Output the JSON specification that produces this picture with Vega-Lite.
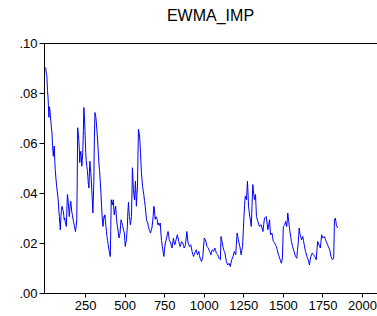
{
  "$schema": "https://vega.github.io/schema/vega-lite/v6.json",
  "width": 333,
  "height": 250,
  "autosize": {"type": "none"},
  "padding": {"left": 44, "top": 43, "right": 0, "bottom": 23},
  "background": "white",
  "config": {
    "view": {"stroke": null},
    "font": "Liberation Sans",
    "axis": {"grid": false, "domainColor": "black", "tickColor": "black", "labelColor": "black", "labelFont": "Liberation Sans", "labelFontSize": 13, "title": null, "domainWidth": 1, "tickWidth": 1}
  },
  "title": {"text": "EWMA_IMP", "fontSize": 16, "font": "Liberation Sans", "fontWeight": "normal", "color": "black", "anchor": "middle", "frame": "group", "offset": 13},
  "data": {"values": [
    {"t":1,"v":0.0902},{"t":4,"v":0.088},{"t":8,"v":0.0869},{"t":12,"v":0.081},{"t":15,"v":0.0788},{"t":18,"v":0.075},{"t":21,"v":0.0703},{"t":24,"v":0.0745},{"t":27,"v":0.0735},{"t":31,"v":0.07},{"t":34,"v":0.0683},{"t":37,"v":0.066},{"t":40,"v":0.0643},{"t":44,"v":0.059},{"t":49,"v":0.0547},{"t":52,"v":0.0575},{"t":55,"v":0.0588},{"t":58,"v":0.053},{"t":61,"v":0.0494},{"t":66,"v":0.0455},{"t":70,"v":0.0427},{"t":75,"v":0.04},{"t":80,"v":0.0373},{"t":84,"v":0.033},{"t":87,"v":0.0306},{"t":90,"v":0.028},{"t":93,"v":0.0253},{"t":97,"v":0.0306},{"t":100,"v":0.033},{"t":104,"v":0.0347},{"t":108,"v":0.0335},{"t":112,"v":0.0327},{"t":115,"v":0.031},{"t":118,"v":0.0293},{"t":121,"v":0.03},{"t":125,"v":0.0281},{"t":128,"v":0.0275},{"t":131,"v":0.0266},{"t":134,"v":0.032},{"t":138,"v":0.0394},{"t":141,"v":0.038},{"t":144,"v":0.0361},{"t":147,"v":0.033},{"t":150,"v":0.0306},{"t":154,"v":0.034},{"t":159,"v":0.0367},{"t":162,"v":0.035},{"t":165,"v":0.0327},{"t":170,"v":0.031},{"t":176,"v":0.0286},{"t":182,"v":0.027},{"t":186,"v":0.0255},{"t":189,"v":0.0246},{"t":193,"v":0.0265},{"t":197,"v":0.0293},{"t":200,"v":0.045},{"t":203,"v":0.0661},{"t":206,"v":0.064},{"t":210,"v":0.0614},{"t":213,"v":0.058},{"t":216,"v":0.0522},{"t":219,"v":0.055},{"t":223,"v":0.0567},{"t":226,"v":0.054},{"t":229,"v":0.0507},{"t":232,"v":0.053},{"t":235,"v":0.0561},{"t":239,"v":0.065},{"t":242,"v":0.0742},{"t":245,"v":0.071},{"t":248,"v":0.0668},{"t":251,"v":0.061},{"t":254,"v":0.0561},{"t":257,"v":0.053},{"t":261,"v":0.0507},{"t":264,"v":0.049},{"t":267,"v":0.0467},{"t":270,"v":0.044},{"t":274,"v":0.042},{"t":277,"v":0.048},{"t":280,"v":0.0527},{"t":283,"v":0.05},{"t":286,"v":0.0481},{"t":290,"v":0.044},{"t":293,"v":0.04},{"t":296,"v":0.036},{"t":299,"v":0.032},{"t":302,"v":0.038},{"t":305,"v":0.0447},{"t":308,"v":0.06},{"t":312,"v":0.0722},{"t":315,"v":0.0715},{"t":318,"v":0.0702},{"t":321,"v":0.068},{"t":324,"v":0.0655},{"t":328,"v":0.062},{"t":331,"v":0.0588},{"t":334,"v":0.0555},{"t":337,"v":0.0521},{"t":341,"v":0.049},{"t":345,"v":0.0454},{"t":350,"v":0.04},{"t":354,"v":0.0347},{"t":358,"v":0.03},{"t":363,"v":0.0266},{"t":366,"v":0.0285},{"t":369,"v":0.0306},{"t":372,"v":0.03},{"t":375,"v":0.0313},{"t":378,"v":0.029},{"t":382,"v":0.0266},{"t":385,"v":0.0245},{"t":388,"v":0.0226},{"t":392,"v":0.021},{"t":396,"v":0.0193},{"t":399,"v":0.018},{"t":403,"v":0.0166},{"t":406,"v":0.0155},{"t":409,"v":0.0146},{"t":412,"v":0.025},{"t":415,"v":0.0373},{"t":418,"v":0.036},{"t":422,"v":0.0353},{"t":425,"v":0.0365},{"t":428,"v":0.0373},{"t":431,"v":0.034},{"t":434,"v":0.0313},{"t":438,"v":0.033},{"t":443,"v":0.0347},{"t":446,"v":0.032},{"t":449,"v":0.0293},{"t":452,"v":0.0275},{"t":456,"v":0.026},{"t":460,"v":0.024},{"t":464,"v":0.022},{"t":467,"v":0.023},{"t":471,"v":0.024},{"t":474,"v":0.027},{"t":477,"v":0.0293},{"t":480,"v":0.0286},{"t":483,"v":0.028},{"t":486,"v":0.027},{"t":490,"v":0.026},{"t":494,"v":0.025},{"t":498,"v":0.024},{"t":501,"v":0.021},{"t":504,"v":0.0186},{"t":507,"v":0.02},{"t":511,"v":0.0213},{"t":514,"v":0.024},{"t":517,"v":0.0266},{"t":520,"v":0.032},{"t":524,"v":0.0363},{"t":527,"v":0.033},{"t":530,"v":0.0306},{"t":533,"v":0.029},{"t":536,"v":0.0273},{"t":540,"v":0.029},{"t":543,"v":0.0306},{"t":546,"v":0.04},{"t":549,"v":0.0501},{"t":552,"v":0.046},{"t":555,"v":0.0414},{"t":558,"v":0.0395},{"t":562,"v":0.0373},{"t":565,"v":0.041},{"t":568,"v":0.0447},{"t":571,"v":0.04},{"t":574,"v":0.0347},{"t":577,"v":0.039},{"t":581,"v":0.0427},{"t":584,"v":0.055},{"t":587,"v":0.0655},{"t":590,"v":0.0645},{"t":594,"v":0.0628},{"t":597,"v":0.06},{"t":600,"v":0.0561},{"t":603,"v":0.052},{"t":606,"v":0.0481},{"t":610,"v":0.045},{"t":613,"v":0.0427},{"t":617,"v":0.041},{"t":621,"v":0.0394},{"t":625,"v":0.037},{"t":630,"v":0.0347},{"t":634,"v":0.032},{"t":638,"v":0.0293},{"t":642,"v":0.0285},{"t":646,"v":0.028},{"t":650,"v":0.0265},{"t":655,"v":0.0253},{"t":659,"v":0.0248},{"t":663,"v":0.024},{"t":668,"v":0.025},{"t":672,"v":0.026},{"t":676,"v":0.028},{"t":680,"v":0.0306},{"t":684,"v":0.0347},{"t":687,"v":0.034},{"t":690,"v":0.0315},{"t":693,"v":0.0295},{"t":697,"v":0.0305},{"t":702,"v":0.0303},{"t":706,"v":0.029},{"t":710,"v":0.0273},{"t":714,"v":0.028},{"t":719,"v":0.027},{"t":722,"v":0.0275},{"t":725,"v":0.028},{"t":729,"v":0.024},{"t":733,"v":0.021},{"t":738,"v":0.0186},{"t":743,"v":0.0165},{"t":748,"v":0.0146},{"t":752,"v":0.0175},{"t":757,"v":0.02},{"t":761,"v":0.021},{"t":765,"v":0.022},{"t":770,"v":0.0235},{"t":774,"v":0.0246},{"t":778,"v":0.023},{"t":782,"v":0.0213},{"t":787,"v":0.0205},{"t":791,"v":0.02},{"t":795,"v":0.019},{"t":799,"v":0.018},{"t":804,"v":0.02},{"t":808,"v":0.022},{"t":812,"v":0.0205},{"t":816,"v":0.0193},{"t":820,"v":0.02},{"t":825,"v":0.0213},{"t":829,"v":0.0225},{"t":833,"v":0.0233},{"t":838,"v":0.022},{"t":842,"v":0.0206},{"t":846,"v":0.0195},{"t":850,"v":0.0186},{"t":855,"v":0.0195},{"t":859,"v":0.0206},{"t":863,"v":0.0203},{"t":867,"v":0.02},{"t":872,"v":0.019},{"t":876,"v":0.018},{"t":880,"v":0.0186},{"t":884,"v":0.0193},{"t":888,"v":0.0215},{"t":893,"v":0.0246},{"t":897,"v":0.022},{"t":901,"v":0.02},{"t":905,"v":0.0193},{"t":910,"v":0.0186},{"t":914,"v":0.019},{"t":918,"v":0.0193},{"t":922,"v":0.018},{"t":926,"v":0.0166},{"t":931,"v":0.0155},{"t":935,"v":0.0146},{"t":939,"v":0.0153},{"t":943,"v":0.016},{"t":948,"v":0.0166},{"t":952,"v":0.0173},{"t":956,"v":0.0163},{"t":960,"v":0.0153},{"t":965,"v":0.016},{"t":969,"v":0.0166},{"t":973,"v":0.015},{"t":977,"v":0.0139},{"t":982,"v":0.0132},{"t":986,"v":0.0126},{"t":990,"v":0.0135},{"t":994,"v":0.0146},{"t":998,"v":0.018},{"t":1003,"v":0.022},{"t":1007,"v":0.0215},{"t":1011,"v":0.0213},{"t":1015,"v":0.02},{"t":1020,"v":0.0186},{"t":1024,"v":0.0183},{"t":1028,"v":0.018},{"t":1032,"v":0.0173},{"t":1037,"v":0.0166},{"t":1041,"v":0.016},{"t":1045,"v":0.0153},{"t":1049,"v":0.0163},{"t":1053,"v":0.0173},{"t":1058,"v":0.017},{"t":1062,"v":0.0166},{"t":1066,"v":0.0173},{"t":1070,"v":0.018},{"t":1075,"v":0.017},{"t":1079,"v":0.016},{"t":1084,"v":0.0157},{"t":1088,"v":0.0153},{"t":1092,"v":0.0146},{"t":1096,"v":0.0139},{"t":1100,"v":0.0136},{"t":1105,"v":0.0133},{"t":1107,"v":0.018},{"t":1109,"v":0.0226},{"t":1113,"v":0.0213},{"t":1117,"v":0.02},{"t":1121,"v":0.0186},{"t":1126,"v":0.0173},{"t":1130,"v":0.0166},{"t":1134,"v":0.016},{"t":1138,"v":0.0143},{"t":1143,"v":0.0126},{"t":1147,"v":0.0119},{"t":1151,"v":0.0112},{"t":1155,"v":0.0116},{"t":1160,"v":0.0119},{"t":1164,"v":0.0112},{"t":1168,"v":0.0106},{"t":1172,"v":0.012},{"t":1177,"v":0.0133},{"t":1181,"v":0.014},{"t":1185,"v":0.0146},{"t":1189,"v":0.0156},{"t":1193,"v":0.0166},{"t":1198,"v":0.016},{"t":1202,"v":0.0153},{"t":1206,"v":0.0195},{"t":1211,"v":0.024},{"t":1215,"v":0.0226},{"t":1219,"v":0.0213},{"t":1223,"v":0.02},{"t":1228,"v":0.0186},{"t":1232,"v":0.017},{"t":1236,"v":0.0153},{"t":1240,"v":0.017},{"t":1245,"v":0.0186},{"t":1250,"v":0.025},{"t":1254,"v":0.0306},{"t":1258,"v":0.035},{"t":1262,"v":0.0387},{"t":1266,"v":0.038},{"t":1270,"v":0.0373},{"t":1273,"v":0.041},{"t":1276,"v":0.0447},{"t":1280,"v":0.0395},{"t":1283,"v":0.0347},{"t":1287,"v":0.0325},{"t":1291,"v":0.0306},{"t":1296,"v":0.0285},{"t":1300,"v":0.0266},{"t":1305,"v":0.035},{"t":1310,"v":0.0434},{"t":1315,"v":0.04},{"t":1321,"v":0.0373},{"t":1324,"v":0.0385},{"t":1327,"v":0.0394},{"t":1330,"v":0.035},{"t":1333,"v":0.0306},{"t":1337,"v":0.0296},{"t":1342,"v":0.0286},{"t":1347,"v":0.0276},{"t":1352,"v":0.0266},{"t":1357,"v":0.027},{"t":1363,"v":0.0273},{"t":1368,"v":0.026},{"t":1374,"v":0.0246},{"t":1379,"v":0.0275},{"t":1384,"v":0.03},{"t":1390,"v":0.0303},{"t":1395,"v":0.0306},{"t":1400,"v":0.028},{"t":1405,"v":0.0253},{"t":1410,"v":0.0273},{"t":1416,"v":0.0293},{"t":1419,"v":0.026},{"t":1422,"v":0.0233},{"t":1426,"v":0.0236},{"t":1431,"v":0.024},{"t":1435,"v":0.0223},{"t":1440,"v":0.0206},{"t":1444,"v":0.0203},{"t":1448,"v":0.02},{"t":1453,"v":0.0193},{"t":1459,"v":0.0186},{"t":1464,"v":0.0173},{"t":1469,"v":0.016},{"t":1474,"v":0.015},{"t":1480,"v":0.0139},{"t":1485,"v":0.0129},{"t":1490,"v":0.0119},{"t":1494,"v":0.0128},{"t":1497,"v":0.0139},{"t":1500,"v":0.02},{"t":1503,"v":0.0266},{"t":1507,"v":0.027},{"t":1512,"v":0.0273},{"t":1515,"v":0.028},{"t":1518,"v":0.0286},{"t":1521,"v":0.0276},{"t":1524,"v":0.0266},{"t":1528,"v":0.0293},{"t":1531,"v":0.032},{"t":1534,"v":0.0303},{"t":1537,"v":0.0286},{"t":1541,"v":0.0263},{"t":1546,"v":0.024},{"t":1550,"v":0.0223},{"t":1554,"v":0.0206},{"t":1558,"v":0.0196},{"t":1561,"v":0.0186},{"t":1566,"v":0.0176},{"t":1571,"v":0.0166},{"t":1575,"v":0.0156},{"t":1580,"v":0.0146},{"t":1584,"v":0.0143},{"t":1588,"v":0.0139},{"t":1592,"v":0.017},{"t":1597,"v":0.02},{"t":1600,"v":0.023},{"t":1603,"v":0.026},{"t":1606,"v":0.0246},{"t":1609,"v":0.0233},{"t":1614,"v":0.0223},{"t":1618,"v":0.0213},{"t":1622,"v":0.022},{"t":1626,"v":0.0226},{"t":1630,"v":0.021},{"t":1635,"v":0.0193},{"t":1639,"v":0.018},{"t":1643,"v":0.0166},{"t":1648,"v":0.0156},{"t":1652,"v":0.0146},{"t":1656,"v":0.014},{"t":1660,"v":0.0133},{"t":1664,"v":0.0123},{"t":1668,"v":0.0112},{"t":1672,"v":0.013},{"t":1677,"v":0.0146},{"t":1681,"v":0.0153},{"t":1686,"v":0.016},{"t":1690,"v":0.0156},{"t":1694,"v":0.0153},{"t":1698,"v":0.015},{"t":1702,"v":0.0146},{"t":1706,"v":0.014},{"t":1711,"v":0.0133},{"t":1715,"v":0.017},{"t":1720,"v":0.0206},{"t":1724,"v":0.02},{"t":1728,"v":0.0193},{"t":1732,"v":0.0186},{"t":1737,"v":0.018},{"t":1741,"v":0.0206},{"t":1745,"v":0.0233},{"t":1749,"v":0.0226},{"t":1753,"v":0.022},{"t":1758,"v":0.0223},{"t":1762,"v":0.0226},{"t":1766,"v":0.022},{"t":1770,"v":0.0213},{"t":1774,"v":0.0206},{"t":1778,"v":0.02},{"t":1783,"v":0.0193},{"t":1787,"v":0.0186},{"t":1791,"v":0.018},{"t":1796,"v":0.0173},{"t":1800,"v":0.016},{"t":1804,"v":0.0146},{"t":1808,"v":0.014},{"t":1813,"v":0.0133},{"t":1817,"v":0.0136},{"t":1821,"v":0.0139},{"t":1824,"v":0.022},{"t":1826,"v":0.0293},{"t":1829,"v":0.0296},{"t":1832,"v":0.03},{"t":1835,"v":0.0286},{"t":1838,"v":0.0273},{"t":1842,"v":0.0266},{"t":1846,"v":0.026}
  ]},
  "layer": [
    {
      "mark": {"type": "line", "color": "#0000ff", "strokeWidth": 1, "clip": true},
      "encoding": {
        "x": {"field": "t", "type": "quantitative", "scale": {"domain": [-10, 2095], "nice": false, "zero": false}, "axis": {"values": [250, 500, 750, 1000, 1250, 1500, 1750, 2000], "format": "d", "tickSize": 4, "labelPadding": 2, "labelFlush": false}},
        "y": {"field": "v", "type": "quantitative", "scale": {"domain": [0, 0.1], "nice": false}, "axis": {"values": [0, 0.02, 0.04, 0.06, 0.08, 0.1], "labelExpr": "replace(format(datum.value, '.2f'), '0.', '.')", "tickSize": 5, "labelPadding": 2}}
      }
    },
    {
      "mark": {"type": "rule", "color": "black", "strokeWidth": 1, "yOffset": 0.5},
      "encoding": {"y": {"datum": 0.1}}
    }
  ]
}
